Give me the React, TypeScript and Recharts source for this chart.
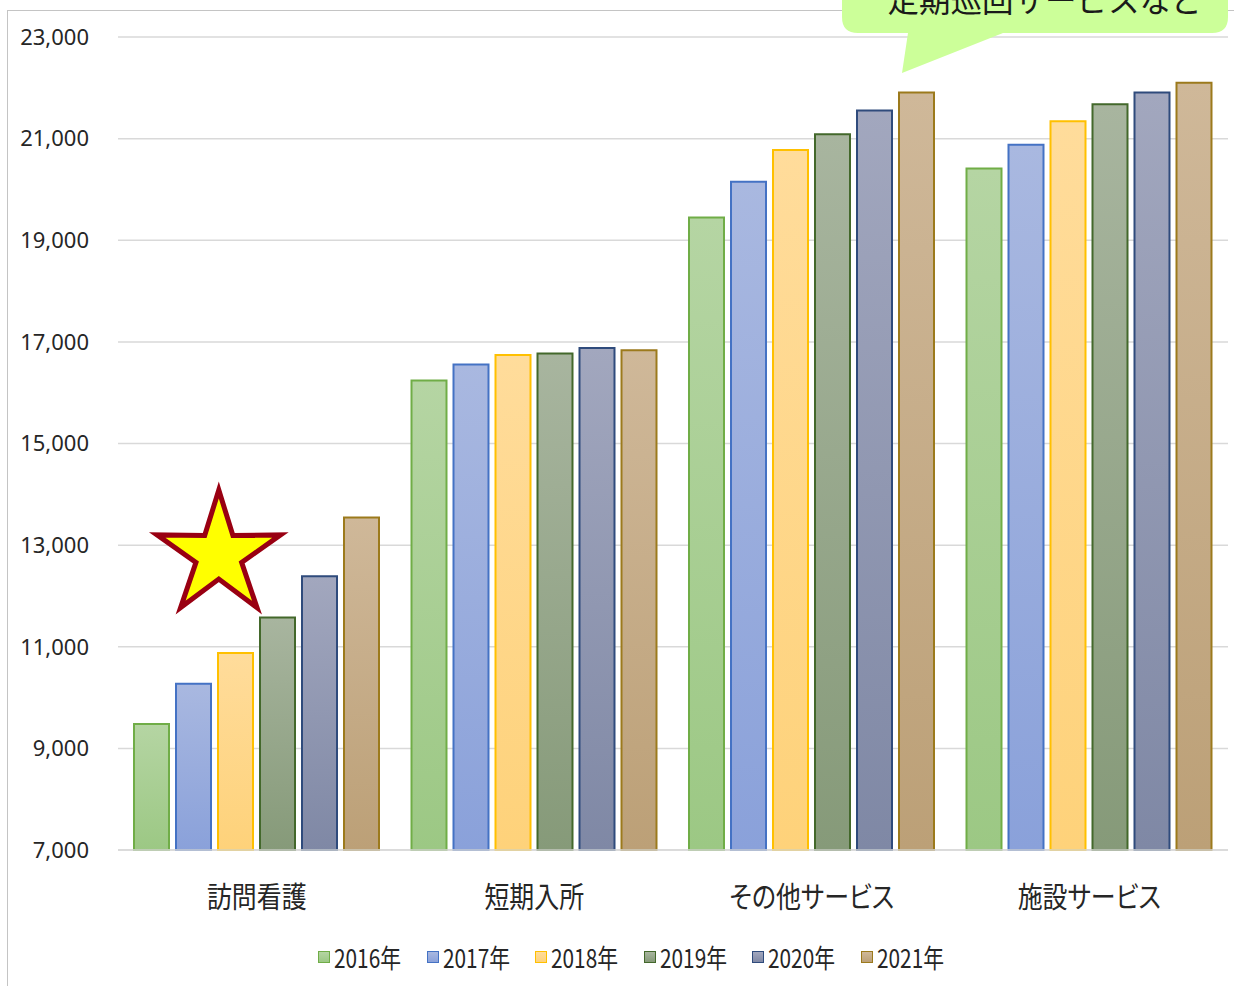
import React from 'react';
import { BarChart, Bar, XAxis, YAxis, CartesianGrid } from 'recharts';

// Categories and yearly values
const categories = ['訪問看護', '短期入所', 'その他サービス', '施設サービス'];
const years = ['2016年', '2017年', '2018年', '2019年', '2020年', '2021年'];
const v2016 = [9480, 16240, 19450, 20410];
const v2017 = [10270, 16555, 20150, 20880];
const v2018 = [10875, 16740, 20775, 21340];
const v2019 = [11575, 16770, 21085, 21675];
const v2020 = [12385, 16880, 21555, 21910];
const v2021 = [13545, 16835, 21910, 22100];
const yTicks = [7000, 9000, 11000, 13000, 15000, 17000, 19000, 21000, 23000];
const calloutText = '定期巡回サービスなど';

const seriesValues = [v2016, v2017, v2018, v2019, v2020, v2021];
const keys = ['y2016', 'y2017', 'y2018', 'y2019', 'y2020', 'y2021'];

// top colour, bottom colour, outline
const palette = [
  ['#b5d5a3', '#9cc884', '#70ad47'],
  ['#a9b8e0', '#8aa1da', '#4472c4'],
  ['#ffdc9b', '#fed27a', '#ffc000'],
  ['#a8b59f', '#869a79', '#43682b'],
  ['#a2a7be', '#7f88a5', '#2f4b7c'],
  ['#cfb899', '#bca077', '#9c7a1c'],
];

const data = categories.map((name, i) => {
  const row: Record<string, string | number> = { name };
  keys.forEach((k, s) => {
    row[k] = seriesValues[s][i];
  });
  return row;
});

const CategoryTick = (props: any) => {
  const { x, y, payload } = props;
  return (
    <g transform={`translate(${x},${y + 58})`}>
      <text
        transform="scale(0.86 1)"
        textAnchor="middle"
        fontFamily="'Noto Sans CJK JP', sans-serif"
        fontSize={29}
        fill="#262626"
        style={{ fontFeatureSettings: "'palt'" }}
      >
        {payload.value}
      </text>
    </g>
  );
};

// five-pointed star outline
const starPoints = (cx: number, cy: number, R: number, r: number) => {
  const pts: string[] = [];
  for (let i = 0; i < 10; i++) {
    const ang = -Math.PI / 2 + (i * Math.PI) / 5;
    const rad = i % 2 === 0 ? R : r;
    pts.push(`${cx + rad * Math.cos(ang)},${cy + rad * Math.sin(ang)}`);
  }
  return pts.join(' ');
};

export default function App() {
  return (
    <div
      style={{
        position: 'fixed',
        left: 0,
        top: 0,
        width: 1234,
        height: 986,
        overflow: 'hidden',
        background: '#ffffff',
      }}
    >
      {/* chart frame */}
      <div
        style={{
          position: 'absolute',
          left: 7,
          top: 10,
          width: 1300,
          height: 1100,
          borderLeft: '1.5px solid #c4c4c4',
          borderTop: '1.5px solid #c4c4c4',
        }}
      />
      <div style={{ position: 'absolute', left: 0, top: 0 }}>
        <BarChart
          width={1234}
          height={986}
          data={data}
          margin={{ top: 37, right: 6, left: 8, bottom: 0 }}
          barCategoryGap={16}
          barGap={7}
        >
          <defs>
            {palette.map((p, i) => (
              <linearGradient key={keys[i]} id={`grad-${keys[i]}`} x1="0" y1="0" x2="0" y2="1">
                <stop offset="0%" stopColor={p[0]} />
                <stop offset="100%" stopColor={p[1]} />
              </linearGradient>
            ))}
          </defs>
          <CartesianGrid vertical={false} stroke="#d9d9d9" strokeWidth={1.5} />
          <XAxis
            dataKey="name"
            height={136}
            axisLine={{ stroke: '#d9d9d9', strokeWidth: 1.5 }}
            tickLine={false}
            tickSize={0}
            tickMargin={0}
            tick={<CategoryTick />}
            interval={0}
          />
          <YAxis
            width={110}
            domain={[7000, 23000]}
            ticks={yTicks}
            axisLine={false}
            tickLine={false}
            tickSize={6}
            tickMargin={23}
            tickFormatter={(v: number) => v.toLocaleString('en-US')}
            tick={{ fontFamily: "'Noto Sans', sans-serif", fontSize: 22, fill: '#262626' }}
          />
          {keys.map((k, i) => (
            <Bar
              key={k}
              dataKey={k}
              name={years[i]}
              fill={`url(#grad-${k})`}
              stroke={palette[i][2]}
              strokeWidth={2}
              isAnimationActive={false}
            />
          ))}
        </BarChart>
      </div>

      {/* legend */}
      <div
        style={{
          position: 'absolute',
          left: 318,
          top: 943,
          display: 'flex',
          height: 28,
          alignItems: 'center',
        }}
      >
        {years.map((y, i) => (
          <div key={y} style={{ width: 108.6, display: 'flex', alignItems: 'center' }}>
            <div
              style={{
                width: 10,
                height: 10,
                border: `1.5px solid ${palette[i][2]}`,
                background: `linear-gradient(${palette[i][0]}, ${palette[i][1]})`,
                marginRight: 4,
                flex: 'none',
              }}
            />
            <span
              style={{
                display: 'inline-block',
                fontFamily: "'Noto Sans CJK JP', sans-serif",
                fontSize: 26,
                lineHeight: '28px',
                color: '#262626',
                transform: 'scaleX(0.8)',
                transformOrigin: 'left center',
                whiteSpace: 'nowrap',
              }}
            >
              {y}
            </span>
          </div>
        ))}
      </div>

      {/* annotations: star and speech bubble */}
      <svg
        width={1234}
        height={986}
        style={{ position: 'absolute', left: 0, top: 0, pointerEvents: 'none' }}
      >
        <polygon
          points={starPoints(218.8, 555, 65, 24)}
          fill="#ffff00"
          stroke="#990012"
          strokeWidth={5}
          strokeLinejoin="miter"
        />
        <path
          d="M 858 -20 L 1212 -20 Q 1228 -20 1228 -4 L 1228 17 Q 1228 33 1212 33 L 1003 33 L 902 73 L 908 33 L 858 33 Q 842 33 842 17 L 842 -4 Q 842 -20 858 -20 Z"
          fill="#ccff99"
        />
        <text
          x={1045}
          y={12}
          textAnchor="middle"
          fontFamily="'Noto Sans CJK JP', sans-serif"
          fontSize={31.5}
          fill="#1a1a1a"
        >
          {calloutText}
        </text>
      </svg>
    </div>
  );
}
